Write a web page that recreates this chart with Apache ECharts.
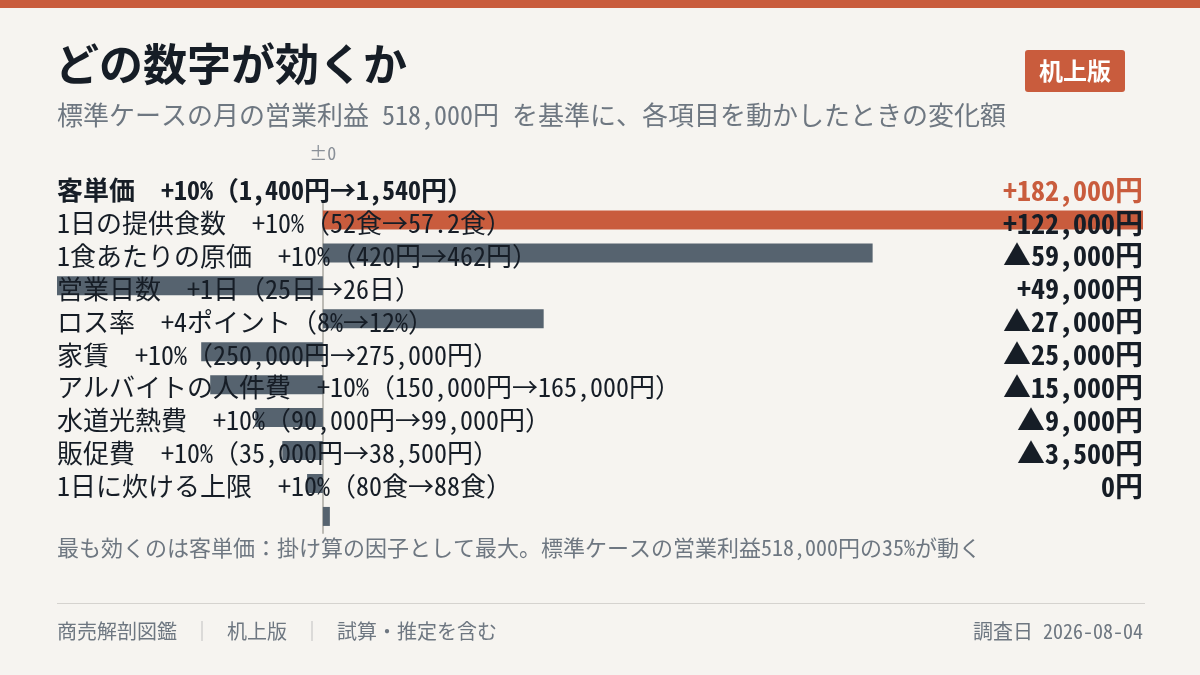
<!DOCTYPE html>
<html>
<head>
    <meta charset="utf-8">
    <title>どの数字が効くか</title>
    <script src="https://cdn.jsdelivr.net/npm/echarts@6/dist/echarts.min.js"></script>
    <style>
        html, body {
            margin: 0;
            padding: 0;
            background: #f6f4f0;
        }

        #chart {
            width: 1200px;
            height: 675px;
        }
    </style>
</head>
<body>
<div id="chart"></div>
<script>
    // 項目と変化の内容
    var names = ['客単価', '1日の提供食数', '1食あたりの原価', '営業日数', 'ロス率', '家賃',
        'アルバイトの人件費', '水道光熱費', '販促費', '1日に炊ける上限'];
    var changes = ['+10%（1,400円→1,540円）', '+10%（52食→57.2食）', '+10%（420円→462円）',
        '+1日（25日→26日）', '+4ポイント（8%→12%）', '+10%（250,000円→275,000円）',
        '+10%（150,000円→165,000円）', '+10%（90,000円→99,000円）', '+10%（35,000円→38,500円）',
        '+10%（80食→88食）'];
    // 営業利益の変化額（円）
    var deltas = [182000, 122000, -59000, 49000, -27000, -25000, -15000, -9000, -3500, 0];
    var axisMin = -59000, axisMax = 182000, axisStep = 59000;

    var ORANGE = '#c95c3d', SLATE = '#56636f', INK = '#161d26', GREY = '#6e7781';
    var FONT = "'Noto Sans Mono CJK JP', 'Noto Sans CJK JP', sans-serif";

    function yen(v) {
        if (v === 0) return '0円';
        var s = Math.abs(v).toLocaleString('en-US') + '円';
        return (v > 0 ? '+' : '▲') + s;
    }

    var rowLabels = names.map(function (n, i) {
        return n + '　' + changes[i];
    });
    var valueLabels = deltas.map(yen);

    var chart = echarts.init(document.getElementById('chart'), null, {renderer: 'canvas'});

    // 上段: 文字、下段: 棒（元の図と同じく1行ずれて描かれる）
    var rowTop = 173.5, barTop = 203.5, rowsHeight = 329.4;

    var option = {
        backgroundColor: '#f6f4f0',
        textStyle: {fontFamily: FONT},
        animation: false,
        grid: [
            {left: 57, right: 57, top: rowTop, height: rowsHeight},
            {left: 57, right: 57, top: barTop, height: rowsHeight}
        ],
        xAxis: [
            {
                gridIndex: 0, type: 'value', position: 'top',
                min: axisMin, max: axisMax, interval: axisStep,
                axisLine: {show: false}, axisTick: {show: false}, splitLine: {show: false},
                axisLabel: {
                    margin: 11, color: '#8a9098', fontSize: 18, fontFamily: FONT,
                    formatter: function (v) { return v === 0 ? '±0' : ''; }
                }
            },
            {
                gridIndex: 1, type: 'value', min: axisMin, max: axisMax,
                axisLine: {show: false}, axisTick: {show: false}, splitLine: {show: false},
                axisLabel: {show: false}
            }
        ],
        yAxis: [
            {
                gridIndex: 0, type: 'category', inverse: true, data: rowLabels, z: 5,
                axisLine: {show: false, onZero: false}, axisTick: {show: false},
                axisLabel: {
                    interval: 0, align: 'left', margin: 0,
                    formatter: function (v, i) {
                        return (i === 0 ? '{b|' : '{n|') + v + '}';
                    },
                    rich: {
                        b: {fontSize: 26, fontWeight: 'bold', color: INK, fontFamily: FONT},
                        n: {fontSize: 26, color: INK, fontFamily: FONT}
                    }
                }
            },
            {
                gridIndex: 0, type: 'category', inverse: true, position: 'right', data: valueLabels, z: 5,
                axisLine: {show: false, onZero: false}, axisTick: {show: false},
                axisLabel: {
                    interval: 0, align: 'right', margin: 0,
                    formatter: function (v, i) {
                        return (i === 0 ? '{o|' : '{k|') + v + '}';
                    },
                    rich: {
                        o: {fontSize: 28, fontWeight: 'bold', color: ORANGE, fontFamily: FONT},
                        k: {fontSize: 28, fontWeight: 'bold', color: INK, fontFamily: FONT}
                    }
                }
            },
            {
                gridIndex: 1, type: 'category', inverse: true, data: names,
                axisTick: {show: false}, axisLabel: {show: false},
                axisLine: {show: true, onZero: true, lineStyle: {color: '#bdbbb5', width: 2}}
            }
        ],
        series: [
            {
                type: 'bar',
                xAxisIndex: 1,
                yAxisIndex: 2,
                barWidth: 19,
                barMinHeight: 7,
                data: deltas.map(function (v, i) {
                    return {value: v, itemStyle: {color: i === 0 ? ORANGE : SLATE}};
                })
            }
        ],
        graphic: [
            {type: 'rect', left: 0, top: 0, shape: {width: 1200, height: 8}, style: {fill: ORANGE}},
            {
                type: 'text', left: 55, top: 42,
                style: {text: 'どの数字が効くか', fill: INK, font: 'bold 44px ' + FONT}
            },
            {
                type: 'text', left: 57, top: 102,
                style: {text: '標準ケースの月の営業利益 518,000円 を基準に、各項目を動かしたときの変化額', fill: GREY, font: '26px ' + FONT}
            },
            {
                type: 'rect', left: 1025, top: 50,
                shape: {width: 100, height: 42, r: 3}, style: {fill: ORANGE}
            },
            {
                type: 'text', x: 1075, y: 71,
                style: {text: '机上版', fill: '#ffffff', font: 'bold 24px ' + FONT, align: 'center', verticalAlign: 'middle'}
            },
            {
                type: 'text', left: 57, top: 537,
                style: {text: '最も効くのは客単価：掛け算の因子として最大。標準ケースの営業利益518,000円の35%が動く', fill: GREY, font: '22px ' + FONT}
            },
            {
                type: 'rect', left: 57, top: 603, shape: {width: 1088, height: 1}, style: {fill: '#d5d3cf'}
            },
            {
                type: 'text', left: 57, top: 621,
                style: {
                    text: '{a|商売解剖図鑑}{s|｜}{a|机上版}{s|｜}{a|試算・推定を含む}',
                    rich: {
                        a: {fill: GREY, font: '20px ' + FONT},
                        s: {fill: '#bcbcbc', font: '20px ' + FONT, width: 50, align: 'center'}
                    }
                }
            },
            {
                type: 'text', right: 57, top: 621,
                style: {text: '調査日 2026-08-04', fill: GREY, font: '20px ' + FONT}
            }
        ]
    };
    chart.setOption(option);
</script>
</body>
</html>
